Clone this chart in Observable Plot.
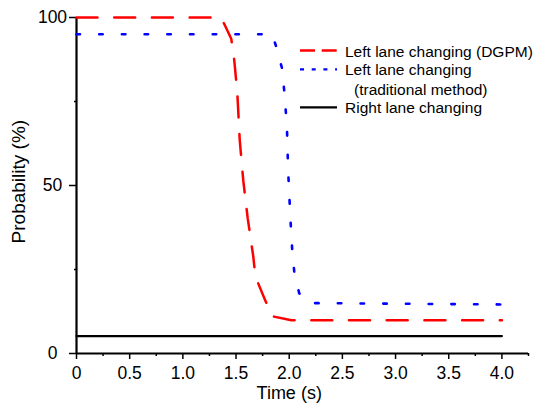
<!DOCTYPE html>
<html>
<head>
<meta charset="utf-8">
<script src="https://cdn.jsdelivr.net/npm/d3@7"></script>
<script src="https://cdn.jsdelivr.net/npm/@observablehq/plot@0.6"></script>
<style>
  html, body { margin: 0; padding: 0; background: #fff; }
  #chart svg { display: block; font-family: "Liberation Sans", Arial, sans-serif; }
</style>
</head>
<body>
<div id="chart"></div>
<script>
// Series: Left lane changing (DGPM)
const dgpmTime = [0, 1.36, 1.455, 1.484, 1.512, 1.535, 1.568, 1.61, 1.662, 1.683, 1.775, 1.837, 2.02, 4.0];
const dgpmProb = [100, 100, 93.7, 87.1, 77.6, 63.4, 51.5, 40.2, 28.9, 22.8, 15.8, 11.1, 9.9, 9.9];
// Series: Left lane changing (traditional method)
const tradTime = [0, 1.84, 1.878, 1.934, 1.953, 1.978, 1.99, 2.01, 2.028, 2.047, 2.094, 2.2, 4.0];
const tradProb = [95, 95, 91.3, 84.7, 78.2, 68, 54.5, 41, 31, 24.5, 17.9, 15, 14.6];
// Series: Right lane changing
const rightTime = [0, 4.0];
const rightProb = [5.2, 5.2];

const seriesNames = ["Left lane changing (DGPM)", "Left lane changing", "Right lane changing"];
const seriesNote = "(traditional method)";
const xTitle = "Time (s)";
const yTitle = "Probability (%)";
const xTicks = [0, 0.5, 1.0, 1.5, 2.0, 2.5, 3.0, 3.5, 4.0];
const xMinorTicks = [0.25, 0.75, 1.25, 1.75, 2.25, 2.75, 3.25, 3.75, 4.25];
const yTicks = [0, 50, 100];
const yMinorTicks = [25, 75];

const dgpm = dgpmTime.map((t, i) => ({t, p: dgpmProb[i]}));
const trad = tradTime.map((t, i) => ({t, p: tradProb[i]}));
const right = rightTime.map((t, i) => ({t, p: rightProb[i]}));

const W = 540, H = 403;
const fs = 17.5;

const chart = Plot.plot({
  width: W,
  height: H,
  marginLeft: 76,
  marginRight: 12,
  marginTop: 17,
  marginBottom: 50,
  style: {fontFamily: '"Liberation Sans", Arial, sans-serif', fontSize: fs + "px", color: "#000", background: "#fff"},
  x: {domain: [0, 4.25], label: null},
  y: {domain: [0, 100], label: null},
  marks: [
    Plot.axisX({ticks: xMinorTicks, tickSize: 3, text: null, label: null, strokeWidth: 1.5}),
    Plot.axisX({ticks: xTicks, tickSize: 6, tickPadding: 7, strokeWidth: 1.5,
      tickFormat: d => d === 0 ? "0" : d.toFixed(1), label: null, fontSize: fs}),
    Plot.axisY({ticks: yMinorTicks, tickSize: 2, text: null, label: null, strokeWidth: 1.5}),
    Plot.axisY({ticks: yTicks, tickSize: 7, tickPadding: 17, strokeWidth: 1.5, textAnchor: "middle",
      tickFormat: d => String(d), label: null, fontSize: fs}),
    Plot.ruleY([0], {stroke: "#000", strokeWidth: 2.2}),
    Plot.ruleX([0], {y1: 0, y2: 100, stroke: "#000", strokeWidth: 2.2}),
    Plot.line(right, {x: "t", y: "p", stroke: "#000", strokeWidth: 2.3}),
    Plot.line(trad, {x: "t", y: "p", stroke: "#0000ff", strokeWidth: 2.6, strokeDasharray: "3.5,19.2"}),
    Plot.line(dgpm, {x: "t", y: "p", stroke: "#ff0000", strokeWidth: 2.5, strokeDasharray: "21,16.7"}),
    Plot.text([xTitle], {x: 2, frameAnchor: "bottom", dy: 45, fontSize: 18, fill: "#000"})
  ]
});

document.getElementById("chart").appendChild(chart);

const svg = d3.select(chart);

// Y axis title, centred on the y scale's value 51
const yc = chart.scale("y").apply(51);
svg.append("text")
  .attr("transform", `translate(25,${yc}) rotate(-90)`)
  .attr("text-anchor", "middle")
  .attr("font-family", '"Liberation Sans", Arial, sans-serif')
  .attr("font-size", 19)
  .attr("fill", "#000")
  .text(yTitle);

// Legend drawn inside the SVG
const lg = svg.append("g")
  .attr("font-family", '"Liberation Sans", Arial, sans-serif')
  .attr("font-size", 15.5)
  .attr("text-anchor", "start")
  .attr("fill", "#000");
const rows = [
  {name: seriesNames[0], ly: 50.5, ty: 51.7, stroke: "#ff0000", dash: "15,6.7", w: 2.3},
  {name: seriesNames[1], ly: 69.3, ty: 70, stroke: "#0000ff", dash: "4,7.7", w: 2.3},
  {name: seriesNames[2], ly: 107.3, ty: 108, stroke: "#000", dash: null, w: 2.2}
];
rows.forEach(r => {
  lg.append("line").attr("x1", 300).attr("x2", 337).attr("y1", r.ly).attr("y2", r.ly)
    .attr("stroke", r.stroke).attr("stroke-width", r.w).attr("stroke-dasharray", r.dash);
  lg.append("text").attr("x", 345).attr("y", r.ty).attr("dy", "0.35em").text(r.name);
});
lg.append("text").attr("x", 354).attr("y", 89.3).attr("dy", "0.35em").text(seriesNote);
</script>
</body>
</html>
